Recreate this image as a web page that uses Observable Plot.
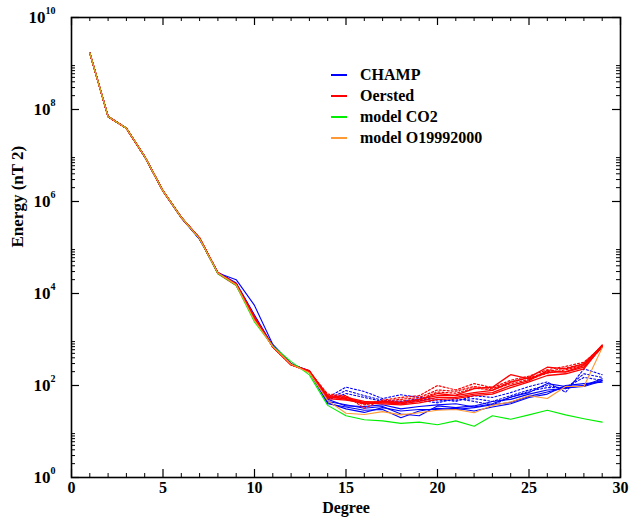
<!DOCTYPE html>
<html>
<head>
<meta charset="utf-8">
<script src="https://cdn.jsdelivr.net/npm/d3@7"></script>
<script src="https://cdn.jsdelivr.net/npm/@observablehq/plot@0.6"></script>
<style>
  html, body { margin: 0; padding: 0; background: #fff; }
  #wrap { position: relative; width: 631px; height: 519px; }
  #legend { position: absolute; left: 331px; top: 64px; font-family: "Liberation Serif", serif; font-weight: bold; font-size: 16px; color: #000; }
  #legend .row { height: 21px; display: flex; align-items: center; }
  #legend .sw { display: inline-block; width: 16px; height: 2px; margin-right: 13px; }
</style>
</head>
<body>
<div id="wrap"><div id="legend"></div></div>
<script>
const degrees = [1,2,3,4,5,6,7,8,9,10,11,12,13,14,15,16,17,18,19,20,21,22,23,24,25,26,27,28,29];

// CHAMP (blue) solid
const champSolid1 = [1.7e9,7.0e7,3.9e7,9.5e6,1.7e6,4.5e5,1.55e5,2.8e4,2.0e4,5.5e3,780,300,200, 45,38,32,35,24,22,36,33,36,45,50,65,80,86,100,140];
const champSolid2 = [1.7e9,7.0e7,3.9e7,9.3e6,1.65e6,4.4e5,1.5e5,2.9e4,1.7e4,3.4e3,720,290,210, 40,34,29,30,20,28,32,30,33,38,43,58,72,90,95,125];
const champSolid3 = [1.7e9,7.0e7,3.9e7,9.5e6,1.7e6,4.5e5,1.55e5,2.8e4,1.6e4,3.0e3,700,285,195, 42,31,26,33,28,30,30,32,28,34,40,55,65,100,110,118];
const champSolid4 = [1.7e9,7.0e7,3.9e7,9.5e6,1.7e6,4.5e5,1.55e5,2.8e4,1.65e4,3.2e3,710,295,205, 50,36,35,38,31,35,38,40,34,40,56,70,110,95,100,130];
// CHAMP (blue) dotted
const champDot1 = [1.7e9,7.0e7,3.9e7,9.5e6,1.7e6,4.5e5,1.55e5,2.8e4,1.6e4,3.0e3,700,290,200, 55,92,74,52,63,56,50,45,60,55,70,95,120,71,230,172];
const champDot2 = [1.7e9,7.0e7,3.9e7,9.5e6,1.7e6,4.5e5,1.55e5,2.8e4,1.6e4,3.0e3,700,290,200, 50,78,60,48,45,52,46,48,52,45,60,80,100,85,180,150];
const champDot3 = [1.7e9,7.0e7,3.9e7,9.5e6,1.7e6,4.5e5,1.55e5,2.8e4,1.6e4,3.0e3,700,290,200, 48,67,55,45,40,48,42,52,45,38,55,75,90,90,150,130];
// Oersted (red) solid
const oerstedSolid1 = [1.7e9,7.0e7,3.9e7,9.5e6,1.7e6,4.5e5,1.6e5,2.8e4,1.6e4,3.1e3,690,280,210, 55,52,43,45,43,48,67,60,70,78,118,150,250,230,300,740];
const oerstedSolid2 = [1.7e9,7.0e7,3.9e7,9.5e6,1.7e6,4.5e5,1.6e5,2.8e4,1.55e4,2.9e3,700,285,200, 60,55,45,42,40,45,55,55,65,70,100,128,210,195,250,700];
const oerstedSolid3 = [1.7e9,7.0e7,3.9e7,9.5e6,1.7e6,4.5e5,1.6e5,2.7e4,1.5e4,2.8e3,690,290,195, 52,48,42,40,38,42,50,52,60,65,90,120,165,180,230,720];
const oerstedSolid4 = [1.7e9,7.0e7,3.9e7,9.5e6,1.7e6,4.5e5,1.6e5,2.8e4,1.6e4,3.0e3,700,280,205, 58,50,40,44,42,50,60,62,86,92,172,140,190,200,270,760];
// Oersted (red) dotted
const oerstedDot1 = [1.7e9,7.0e7,3.9e7,9.5e6,1.7e6,4.5e5,1.6e5,2.8e4,1.6e4,3.0e3,700,285,200, 65,60,32,48,55,60,100,80,110,90,130,160,220,260,320,700];
const oerstedDot2 = [1.7e9,7.0e7,3.9e7,9.5e6,1.7e6,4.5e5,1.6e5,2.8e4,1.6e4,3.0e3,700,285,200, 60,58,40,46,50,55,80,75,95,85,120,145,200,240,290,680];
const oerstedDot3 = [1.7e9,7.0e7,3.9e7,9.5e6,1.7e6,4.5e5,1.6e5,2.8e4,1.6e4,3.0e3,700,285,200, 55,55,38,44,46,50,72,68,88,80,110,135,185,220,280,650];
// models
const modelCO2 = [1.7e9,7.0e7,3.9e7,9.5e6,1.7e6,4.5e5,1.55e5,2.7e4,1.5e4,2.4e3,720,330,170, 37,22,18,17,15,16,14,17,13,22,18.5,23,29,23,19,16];
const modelO1999 = [1.7e9,7.0e7,3.9e7,9.5e6,1.7e6,4.5e5,1.55e5,2.8e4,1.55e4,2.6e3,700,290,190, 47,25,23.4,27,23,25.5,29,30,25.5,37,44,60,52,95,95,660];

const legendLabels = ["CHAMP", "Oersted", "model CO2", "model O19992000"];
const legendColors = ["#0000ff", "#ff0000", "#00ee00", "#ff9933"];

const xMajor = [0,5,10,15,20,25,30];
const xMinor = [1,2,3,4,6,7,8,9,11,12,13,14,16,17,18,19,21,22,23,24,26,27,28,29];
const yExponents = [0,2,4,6,8,10];
const yMajor = yExponents.map(e => Math.pow(10, e));
const yMinor = [0,2,4,6,8].flatMap(e => [2,3,4,5,6,7,8,9].map(d => d * Math.pow(10, e)));

const seriesDefs = [
  {values: champSolid1, color: legendColors[0], dash: null, w: 1.1},
  {values: champSolid2, color: legendColors[0], dash: null, w: 1.1},
  {values: champSolid3, color: legendColors[0], dash: null, w: 1.1},
  {values: champSolid4, color: legendColors[0], dash: null, w: 1.1},
  {values: champDot1, color: legendColors[0], dash: "2,2", w: 1.1},
  {values: champDot2, color: legendColors[0], dash: "2,2", w: 1.1},
  {values: champDot3, color: legendColors[0], dash: "2,2", w: 1.1},
  {values: oerstedSolid1, color: legendColors[1], dash: null, w: 1.3},
  {values: oerstedSolid2, color: legendColors[1], dash: null, w: 1.3},
  {values: oerstedSolid3, color: legendColors[1], dash: null, w: 1.3},
  {values: oerstedSolid4, color: legendColors[1], dash: null, w: 1.3},
  {values: oerstedDot1, color: legendColors[1], dash: "2,2", w: 1.2},
  {values: oerstedDot2, color: legendColors[1], dash: "2,2", w: 1.2},
  {values: oerstedDot3, color: legendColors[1], dash: "2,2", w: 1.2},
  {values: modelCO2, color: legendColors[2], dash: null, w: 1.1},
  {values: modelO1999, color: legendColors[3], dash: null, w: 1.1}
];

const W = 631, H = 519, ML = 71, MR = 11, MT = 17, MB = 42;
const PW = W - ML - MR, PH = H - MT - MB;
const serif = "Liberation Serif, Times New Roman, serif";

const lineMarks = seriesDefs.map(s =>
  Plot.line(degrees.map((d, i) => ({degree: d, energy: s.values[i]})), {
    x: "degree", y: "energy", stroke: s.color, strokeWidth: s.w,
    strokeDasharray: s.dash
  })
);

const yMajorOne = yMajor.filter((d, i) => yExponents[i] < 10);
const yMajorTwo = yMajor.filter((d, i) => yExponents[i] >= 10);
const expText = d => String(Math.round(Math.log10(d)));

const chart = Plot.plot({
  width: W, height: H,
  marginLeft: ML, marginRight: MR, marginTop: MT, marginBottom: MB,
  style: {fontFamily: serif, background: "white"},
  x: {domain: [0, 30], axis: null},
  y: {type: "log", domain: [1, 1e10], axis: null},
  marks: [
    ...lineMarks,
    Plot.tickY(yMajor, {y: d => d, insetRight: PW - 8, stroke: "black", strokeWidth: 1.2}),
    Plot.tickY(yMajor, {y: d => d, insetLeft: PW - 8, stroke: "black", strokeWidth: 1.2}),
    Plot.tickY(yMinor, {y: d => d, insetRight: PW - 4, stroke: "black", strokeWidth: 1}),
    Plot.tickY(yMinor, {y: d => d, insetLeft: PW - 4, stroke: "black", strokeWidth: 1}),
    Plot.tickX(xMajor, {x: d => d, insetTop: PH - 8, stroke: "black", strokeWidth: 1.2}),
    Plot.tickX(xMajor, {x: d => d, insetBottom: PH - 8, stroke: "black", strokeWidth: 1.2}),
    Plot.tickX(xMinor, {x: d => d, insetTop: PH - 4, stroke: "black", strokeWidth: 1}),
    Plot.tickX(xMinor, {x: d => d, insetBottom: PH - 4, stroke: "black", strokeWidth: 1}),
    Plot.frame({stroke: "black", strokeWidth: 1.6}),
    // y tick labels: "10" with superscript exponent, right-aligned as a whole
    Plot.text(yMajorOne, {y: d => d, frameAnchor: "left", text: () => "10", textAnchor: "end",
      dx: -21, fontSize: 17, fontWeight: "bold", fill: "black"}),
    Plot.text(yMajorTwo, {y: d => d, frameAnchor: "left", text: () => "10", textAnchor: "end",
      dx: -26, fontSize: 17, fontWeight: "bold", fill: "black"}),
    Plot.text(yMajorOne, {y: d => d, frameAnchor: "left", text: expText, textAnchor: "start",
      dx: -21, dy: -7, fontSize: 10, fontWeight: "bold", fill: "black"}),
    Plot.text(yMajorTwo, {y: d => d, frameAnchor: "left", text: expText, textAnchor: "start",
      dx: -26, dy: -7, fontSize: 10, fontWeight: "bold", fill: "black"}),
    Plot.text(xMajor, {x: d => d, frameAnchor: "bottom", text: d => String(d), dy: 15,
      fontSize: 16, fontWeight: "bold", fill: "black"}),
    Plot.text(["Energy (nT 2)"], {frameAnchor: "left", text: d => d, dx: -54, rotate: -90,
      fontSize: 17, fontWeight: "bold", fill: "black"}),
    Plot.text(["Degree"], {frameAnchor: "bottom", text: d => d, dy: 35,
      fontSize: 16, fontWeight: "bold", fill: "black"})
  ]
});

const wrap = document.getElementById("wrap");
wrap.insertBefore(chart, wrap.firstChild);
const legend = document.getElementById("legend");
legendLabels.forEach((lab, i) => {
  const row = document.createElement("div");
  row.className = "row";
  const sw = document.createElement("span");
  sw.className = "sw";
  sw.style.background = legendColors[i];
  const t = document.createElement("span");
  t.textContent = lab;
  row.appendChild(sw); row.appendChild(t);
  legend.appendChild(row);
});
</script>
</body>
</html>
